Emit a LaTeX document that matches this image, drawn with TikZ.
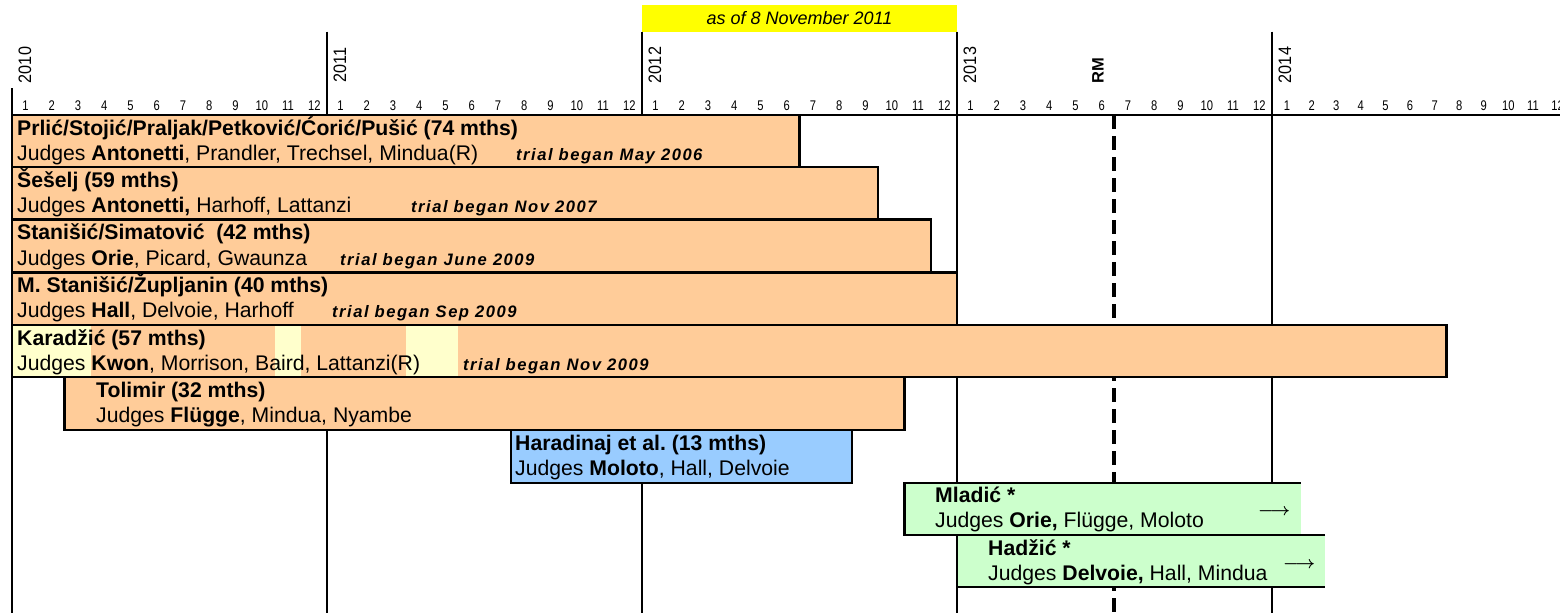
\documentclass[tikz,border=0pt]{standalone}
\usepackage{fontspec}
\setmainfont{Liberation Sans}
\newfontfamily\monthfont[FakeStretch=0.8]{Liberation Sans}
\newfontfamily\yearfont[FakeStretch=0.9]{Liberation Sans}
\newfontfamily\trialfont[LetterSpace=9]{Liberation Sans}
\frenchspacing
\definecolor{barorange}{HTML}{FFCC99}
\definecolor{barblue}{HTML}{99CCFF}
\definecolor{bargreen}{HTML}{CCFFCC}
\definecolor{patchyellow}{HTML}{FFFFCC}
\definecolor{noteyellow}{HTML}{FFFF00}
\tikzset{
  yearline/.style={line width=2pt},
  barbox/.style={draw=black, line width=2.2pt},
  ttl/.style={anchor=base west, inner sep=0pt, font=\fontsize{21.2}{24}\selectfont\bfseries},
  jdg/.style={anchor=base west, inner sep=0pt, font=\fontsize{21.2}{24}\selectfont},
  trial/.style={anchor=base west, inner sep=0pt, font=\trialfont\fontsize{16.6}{19}\selectfont\bfseries\itshape},
  mon/.style={anchor=base, inner sep=0pt, font=\monthfont\fontsize{14}{16}\selectfont},
  yr/.style={rotate=90, inner sep=0pt, font=\yearfont\fontsize{18}{20}\selectfont},
  arr/.style={anchor=base west, inner sep=0pt, font=\fontsize{17}{20}\selectfont\boldmath},
}
\begin{document}
\begin{tikzpicture}[x=1pt,y=-1pt]
\useasboundingbox (0,0) rectangle (1560,613);
% note box
\fill[noteyellow] (642,5) rectangle (957,31.5);
\node[inner sep=0pt, font=\fontsize{18}{20}\selectfont\itshape] (note) at (799.5,18.5) {as of 8 November 2011};
% year lines
\coordinate (y10t) at (12,88);   \coordinate (y10b) at (12,613);
\coordinate (y11t) at (327,31.5);  \coordinate (y11b) at (327,613);
\coordinate (y12t) at (642,31.5);  \coordinate (y12b) at (642,613);
\coordinate (y13t) at (957,31.5);  \coordinate (y13b) at (957,613);
\coordinate (y14t) at (1272,31.5); \coordinate (y14b) at (1272,613);
\draw[yearline] (y10t) -- (y10b);
\draw[yearline] (y11t) -- (y11b);
\draw[yearline] (y12t) -- (y12b);
\draw[yearline] (y13t) -- (y13b);
\draw[yearline] (y14t) -- (y14b);
% axis
\coordinate (axl) at (12,115); \coordinate (axr) at (1560,115);
\draw[line width=2.4pt] (axl) -- (axr);
% RM dashed line
\coordinate (rmt) at (1114,115); \coordinate (rmb) at (1114,613);
\draw[line width=3.6pt, dash pattern=on 14pt off 7pt] (rmt) -- (rmb);
% year labels
\node[yr] (yl10) at (25,65) {2010};
\node[yr] (yl11) at (340,65) {2011};
\node[yr] (yl12) at (655,65) {2012};
\node[yr] (yl13) at (970,65) {2013};
\node[yr] (yl14) at (1285,65) {2014};
\node[rotate=90, inner sep=0pt, font=\fontsize{16.5}{18}\selectfont\bfseries] (rm) at (1098,70.5) {RM};
% month numbers
\foreach \yx [count=\yi] in {12,327,642,957} {
  \foreach \m in {1,...,12} {
    \node[mon] (m\yi-\m) at (\yx+26.25*\m-12.75,110) {\m};
  }
}
\foreach \m in {1,...,12} {
  \node[mon] (m5-\m) at (1287+24.6*\m-24.6,110) {\m};
}
% bars
\draw[barbox, fill=barorange] (12,115) rectangle (799.5,167);
\draw[barbox, fill=barorange] (12,167) rectangle (878.2,219.5);
\draw[barbox, fill=barorange] (12,219.5) rectangle (930.7,272.5);
\draw[barbox, fill=barorange] (12,272.5) rectangle (957,325);
\fill[barorange] (12,325) rectangle (1446.5,377);
\fill[patchyellow] (12,325) rectangle (90.7,377);
\fill[patchyellow] (274.5,325) rectangle (300.7,377);
\fill[patchyellow] (405.7,325) rectangle (458.2,377);
\draw[barbox] (12,325) rectangle (1446.5,377);
\draw[barbox, fill=barorange] (64.5,377) rectangle (904.5,430);
\draw[barbox, fill=barblue] (510.7,430) rectangle (852,482.7);
\fill[bargreen] (904.5,482.7) rectangle (1300.5,535);
\draw[line width=2.2pt] (1300.5,482.7) -- (904.5,482.7) -- (904.5,535) -- (1300.5,535);
\fill[bargreen] (957,535) rectangle (1325,587);
\draw[line width=2.2pt] (1325,535) -- (957,535) -- (957,587) -- (1325,587);
% texts
\node[ttl] (t1) at (17,135) {Prlić/Stojić/Praljak/Petković/Ćorić/Pušić (74 mths)};
\node[jdg] (j1) at (17,160) {Judges \textbf{Antonetti}, Prandler, Trechsel, Mindua(R)};
\node[trial] (r1) at (516,160) {trial began May 2006};
\node[ttl] (t2) at (17,187) {Šešelj (59 mths)};
\node[jdg] (j2) at (17,212.5) {Judges \textbf{Antonetti,} Harhoff, Lattanzi};
\node[trial] (r2) at (411,212.5) {trial began Nov 2007};
\node[ttl] (t3) at (17,239.5) {Stanišić/Simatović\ \ (42 mths)};
\node[jdg] (j3) at (17,265) {Judges \textbf{Orie}, Picard, Gwaunza};
\node[trial] (r3) at (340,265) {trial began June 2009};
\node[ttl] (t4) at (17,292.5) {M. Stanišić/Župljanin (40 mths)};
\node[jdg] (j4) at (17,317.5) {Judges \textbf{Hall}, Delvoie, Harhoff};
\node[trial] (r4) at (332,317.5) {trial began Sep 2009};
\node[ttl] (t5) at (17,345) {Karadžić (57 mths)};
\node[jdg] (j5) at (17,370) {Judges \textbf{Kwon}, Morrison, Baird, Lattanzi(R)};
\node[trial] (r5) at (463,370) {trial began Nov 2009};
\node[ttl] (t6) at (96,397) {Tolimir (32 mths)};
\node[jdg] (j6) at (96,422.5) {Judges \textbf{Flügge}, Mindua, Nyambe};
\node[ttl] (t7) at (515,450) {Haradinaj et al. (13 mths)};
\node[jdg] (j7) at (515,475) {Judges \textbf{Moloto}, Hall, Delvoie};
\node[ttl] (t8) at (935,502.7) {Mladić *};
\node[jdg] (j8) at (935,527.7) {Judges \textbf{Orie,} Flügge, Moloto};
\node[arr] (a8) at (1258,515.3) {$\longrightarrow$};
\node[ttl] (t9) at (988,555) {Hadžić *};
\node[jdg] (j9) at (988,580) {Judges \textbf{Delvoie,} Hall, Mindua};
\node[arr] (a9) at (1283,568.6) {$\longrightarrow$};
\end{tikzpicture}
\end{document}
